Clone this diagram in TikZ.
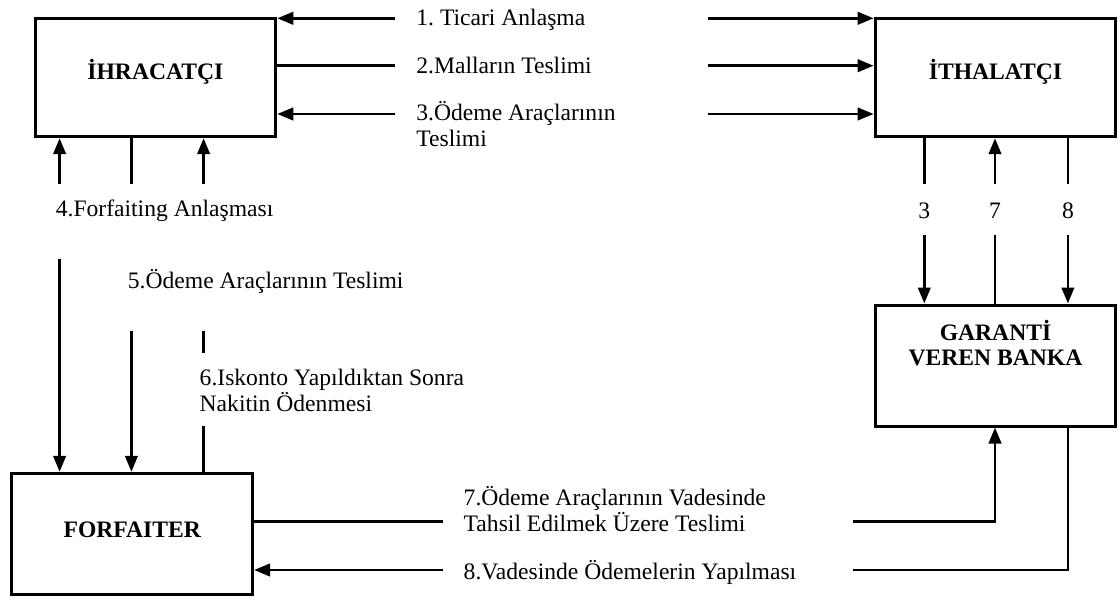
\documentclass[tikz,border=0pt]{standalone}
\usepackage{fontspec}
\setmainfont{Liberation Serif}
\usetikzlibrary{math,arrows.meta}

\tikzset{
  box/.style={draw, line width=1.5pt, minimum width=120.35pt, minimum height=59.2pt, inner sep=0pt},
  boxlbl/.style={font=\fontsize{11.8pt}{12.6pt}\selectfont\bfseries, align=center, inner sep=0pt},
  txt/.style={anchor=base west, inner sep=0pt, align=left},
  num/.style={anchor=base, inner sep=0pt},
  flow/.style={line width=1.4pt, -{Triangle[length=8pt,width=6.2pt]}},
  link/.style={line width=1.4pt},
}

\begin{document}
\frenchspacing
\begin{tikzpicture}[x=0.5pt, y=-0.5pt, font=\fontsize{11.8pt}{13.3pt}\selectfont]
  \useasboundingbox (0,0) rectangle (1120,599);

  \tikzmath{\xa = 59.6; \xb = 131.4; \xc = 203.6;}
  \tikzmath{\xd = 924.3; \xe = 995; \xf = 1067.9;}

  % the four parties
  \node[box, label={[boxlbl, yshift=2.9pt]center:İHRACATÇI}] (ihr) at (155.4,77.5) {};
  \node[box, label={[boxlbl, yshift=2.9pt]center:İTHALATÇI}] (ith) at (995.5,77.5) {};
  \node[box, minimum height=60.35pt, label={[boxlbl, yshift=2pt]center:FORFAITER}] (forf) at (132.2,533.7) {};
  \node[box, minimum height=60.5pt, label={[boxlbl, yshift=11.4pt]center:GARANTİ\\VEREN BANKA}] (bank) at (995.5,365.5) {};

  % exporter <-> importer
  \node[txt] (t1) at (416,26) {1. Ticari Anlaşma};
  \node[txt] (t2) at (416,73.3) {2.Malların Teslimi};
  \node[txt] (t3) at (416,146.7) {3.Ödeme Araçlarının\\Teslimi};

  \coordinate (r1l) at (395.4,18.3);
  \coordinate (r1r) at (708,18.3);
  \coordinate (r2l) at (395.4,65.7);
  \coordinate (r2r) at (708,65.7);
  \coordinate (r3l) at (395.4,114);
  \coordinate (r3r) at (708,114);
  \draw[flow] (r1l) -- (ihr.east |- r1l);
  \draw[flow] (r1r) -- (ith.west |- r1r);
  \draw[link] (r2l) -- (ihr.east |- r2l);
  \draw[flow] (r2r) -- (ith.west |- r2r);
  \draw[flow] (r3l) -- (ihr.east |- r3l);
  \draw[flow] (r3r) -- (ith.west |- r3r);

  % exporter <-> forfaiter
  \node[txt] (t4) at (55.4,216.7) {4.Forfaiting Anlaşması};
  \node[txt] (t5) at (127.5,288.5) {5.Ödeme Araçlarının Teslimi};
  \node[txt] (t6) at (199.3,411.7) {6.Iskonto Yapıldıktan Sonra\\Nakitin Ödenmesi};

  \coordinate (a1) at (\xa,184);
  \coordinate (a2) at (\xb,184);
  \coordinate (a3) at (\xc,184);
  \draw[flow] (a1) -- (a1 |- ihr.south);
  \draw[link] (a2) -- (a2 |- ihr.south);
  \draw[flow] (a3) -- (a3 |- ihr.south);

  \coordinate (b1) at (\xa,258.7);
  \coordinate (b2) at (\xb,330.7);
  \coordinate (b3) at (\xc,330.7);
  \coordinate (b3e) at (\xc,352.7);
  \coordinate (b4) at (\xc,426);
  \draw[flow] (b1) -- (b1 |- forf.north);
  \draw[flow] (b2) -- (b2 |- forf.north);
  \draw[link] (b3) -- (b3e);
  \draw[link] (b4) -- (b4 |- forf.north);

  % importer <-> bank
  \node[num] (n3) at (\xd,218.3) {3};
  \node[num] (n7) at (\xe,218.3) {7};
  \node[num] (n8) at (\xf,218.3) {8};

  \coordinate (c1) at (\xd,184);
  \coordinate (c2) at (\xe,184);
  \coordinate (c3) at (\xf,184);
  \draw[link] (c1) -- (c1 |- ith.south);
  \draw[flow] (c2) -- (c2 |- ith.south);
  \draw[link] (c3) -- (c3 |- ith.south);

  \coordinate (d1) at (\xd,235);
  \coordinate (d2) at (\xe,235);
  \coordinate (d3) at (\xf,235);
  \draw[flow] (d1) -- (d1 |- bank.north);
  \draw[link] (d2) -- (d2 |- bank.north);
  \draw[flow] (d3) -- (d3 |- bank.north);

  % forfaiter <-> bank
  \node[txt] (t7) at (463.3,531.7) {7.Ödeme Araçlarının Vadesinde\\Tahsil Edilmek Üzere Teslimi};
  \node[txt] (t8) at (463.3,579) {8.Vadesinde Ödemelerin Yapılması};

  \coordinate (r7l) at (443,521.7);
  \coordinate (r7r) at (853,521.7);
  \coordinate (r8l) at (443,570);
  \coordinate (r8r) at (853,570);
  \draw[link] (forf.east |- r7l) -- (r7l);
  \draw[flow] (r7r) -| (bank.south -| \xe,0);
  \draw[flow] (r8l) -- (forf.east |- r8l);
  \draw[link] (r8r) -| (bank.south -| \xf,0);

\end{tikzpicture}
\end{document}
